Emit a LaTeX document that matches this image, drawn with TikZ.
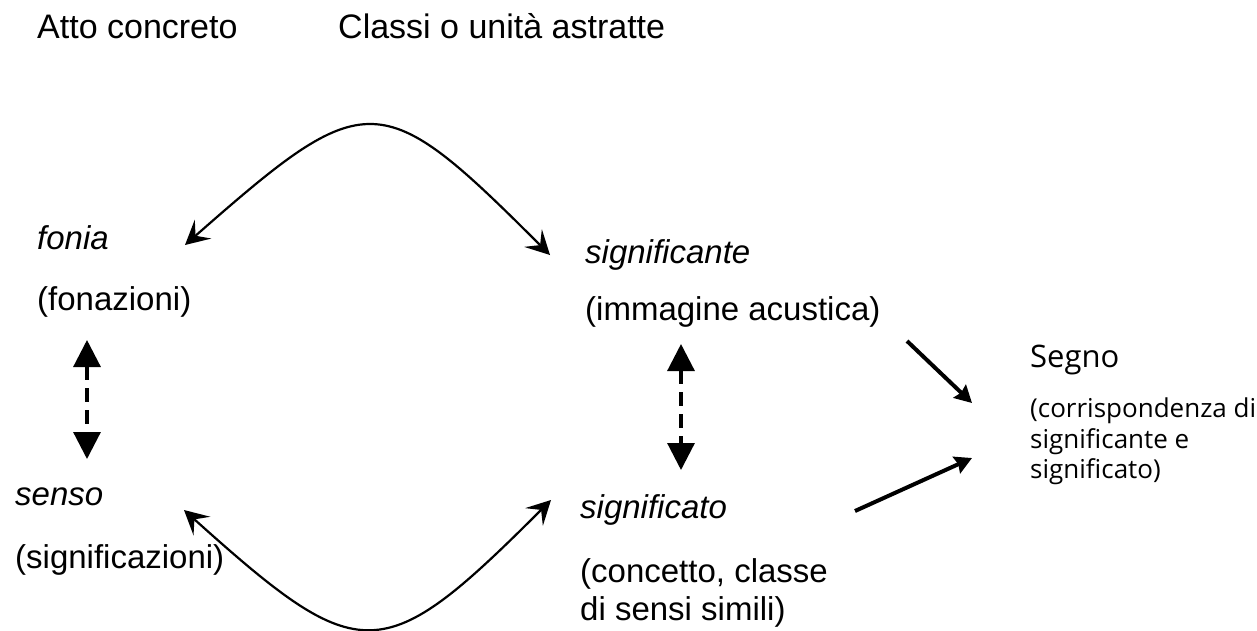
\documentclass[tikz,border=0pt]{standalone}
\usepackage{fontspec}
\setmainfont{Liberation Sans}
\newfontfamily\segnofont{Open Sans}
\usetikzlibrary{arrows.meta}
\begin{document}
\begin{tikzpicture}[x=1pt,y=-1pt,
  lbl/.style={anchor=base west, inner sep=0pt, font=\fontsize{33}{40}\selectfont},
  hlbl/.style={anchor=base west, inner sep=0pt, font=\fontsize{34}{40}\selectfont},
  ilbl/.style={anchor=base west, inner sep=0pt, font=\fontsize{33}{40}\selectfont\itshape},
  slbl/.style={anchor=base west, inner sep=0pt, font=\segnofont\fontsize{26}{30}\selectfont},
  curvearrow/.style={line width=2.2pt, {Stealth[length=24pt,width=25pt,inset=10pt]}-{Stealth[length=24pt,width=25pt,inset=10pt]}},
  dasharrow/.style={line width=3.2pt, dash pattern=on 14pt off 8pt, {Triangle[length=27pt,width=27pt]}-{Triangle[length=27pt,width=27pt]}},
  segarrow/.style={line width=4pt, -{Stealth[length=17pt,width=18pt,inset=2pt]}}]
\useasboundingbox[fill=white] (0,0) rectangle (1257,630);
% headers
\node[hlbl] (atto) at (37,38) {Atto concreto};
\node[hlbl] (classi) at (338,38) {Classi o unità astratte};
% left column
\node[ilbl] (fonia) at (37,249) {fonia};
\node[lbl] (fonaz) at (37,310) {(fonazioni)};
\node[ilbl] (senso) at (15,505) {senso};
\node[lbl] (signz) at (15,568) {(significazioni)};
% middle column
\node[ilbl] (sgnte) at (585,263) {significante};
\node[lbl] (imm) at (585,320) {(immagine acustica)};
\node[ilbl] (sgto) at (580,518) {significato};
\node[lbl] (conc1) at (580,582) {(concetto, classe};
\node[lbl] (conc2) at (580,620) {di sensi simili)};
% right
\node[anchor=base west, inner sep=0pt, font=\segnofont\fontsize{31}{36}\selectfont] (segno) at (1030,367) {Segno};
\node[slbl] (corr1) at (1030,417) {(corrispondenza di};
\node[slbl] (corr2) at (1030,448) {significante e};
\node[slbl] (corr3) at (1030,478) {significato)};
% connector ends
\coordinate (tA) at (185,245);
\coordinate (tB) at (550,255);
\coordinate (bA) at (184,510);
\coordinate (bB) at (551,500);
\coordinate (dL1) at (87,340);
\coordinate (dL2) at (87,459);
\coordinate (dR1) at (681,344);
\coordinate (dR2) at (681,470);
\coordinate (s1a) at (907,341);
\coordinate (s1b) at (972,403);
\coordinate (s2a) at (855,511);
\coordinate (s2b) at (972,458);
% connectors
\draw[curvearrow] (tA) .. controls (367,85) and (380,85) .. (tB);
\draw[curvearrow] (bA) .. controls (361,669) and (382,669) .. (bB);
\draw[dasharrow] (dL1) -- (dL2);
\draw[dasharrow] (dR1) -- (dR2);
\draw[segarrow] (s1a) -- (s1b);
\draw[segarrow] (s2a) -- (s2b);
\end{tikzpicture}
\end{document}
